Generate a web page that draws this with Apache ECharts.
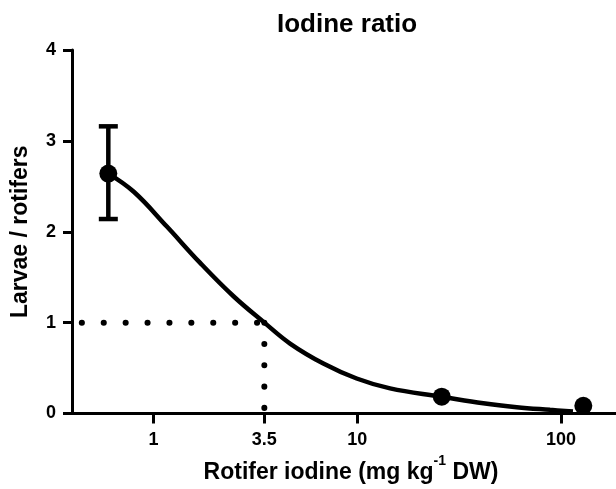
<!DOCTYPE html>
<html>
<head>
<meta charset="utf-8">
<script src="https://cdn.jsdelivr.net/npm/echarts@6/dist/echarts.min.js"></script>
<style>
html,body{margin:0;padding:0;background:#fff;}
#chart{width:616px;height:489px;}
</style>
</head>
<body>
<div id="chart"></div>
<script>
// Measured data (means with error bars)
var pointX = [0.60, 26.0, 128.8];
var pointY = [2.64, 0.185, 0.084];
var errLow = [2.14, 0.185, 0.084];
var errHigh = [3.16, 0.185, 0.084];

// Fitted curve
var curveX = [0.60, 0.80, 1.16, 1.69, 2.47, 3.5, 4.68, 6.82, 9.94, 14.5, 26.0, 41.6, 60.7, 88.4, 114.6];
var curveY = [2.64, 2.44, 2.06, 1.66, 1.29, 1.00, 0.77, 0.55, 0.385, 0.276, 0.185, 0.112, 0.069, 0.040, 0.022];

// Reference (dotted) lines
var refX = 3.5;
var refY = 1;

// Axis ticks
var xTicks = [1, 3.5, 10, 100];
var xMin = 0.398, xMax = 186.4;
var yMin = 0, yMax = 4, yInterval = 1;

var FONT = 'Liberation Sans, Arial, Helvetica, sans-serif';

var curveData = curveX.map(function (x, i) { return [x, curveY[i]]; });
var pointData = pointX.map(function (x, i) { return [x, pointY[i]]; });
var errData = pointX.map(function (x, i) { return [x, errLow[i], errHigh[i]]; })
  .filter(function (d) { return d[2] - d[1] > 0.01; });

var chart = echarts.init(document.getElementById('chart'), null, {renderer: 'canvas'});
chart.setOption({
  animation: false,
  backgroundColor: '#fff',
  title: {
    text: 'Iodine ratio',
    left: 277, top: 12, padding: 0,
    textStyle: {fontFamily: FONT, fontSize: 26, fontWeight: 'bold', color: '#000'}
  },
  grid: {left: 72, right: 0, top: 50, bottom: 72, containLabel: false},
  xAxis: {
    type: 'log',
    logBase: 10,
    min: xMin, max: xMax,
    name: '{a|Rotifer iodine (mg kg}{s|-1}{a| DW)}',
    nameLocation: 'middle',
    nameGap: 41,
    nameTextStyle: {
      padding: [0, 0, 0, 14],
      rich: {
        a: {fontFamily: FONT, fontSize: 23, fontWeight: 'bold', color: '#000', lineHeight: 36},
        s: {fontFamily: FONT, fontSize: 14, fontWeight: 'bold', color: '#000', lineHeight: 14, verticalAlign: 'top'}
      }
    },
    axisLine: {show: true, lineStyle: {color: '#000', width: 3}},
    axisTick: {show: true, length: 10, lineStyle: {color: '#000', width: 3}, customValues: xTicks},
    axisLabel: {
      show: true, margin: 18, customValues: xTicks,
      fontFamily: FONT, fontSize: 18, fontWeight: 'bold', color: '#000',
      formatter: function (v) { return String(+(+v).toPrecision(6)); }
    },
    splitLine: {show: false},
    minorTick: {show: false}
  },
  yAxis: {
    type: 'value',
    min: yMin, max: yMax, interval: yInterval,
    name: 'Larvae / rotifers',
    nameLocation: 'middle',
    nameGap: 40,
    nameTextStyle: {fontFamily: FONT, fontSize: 23, fontWeight: 'bold', color: '#000'},
    axisLine: {show: true, lineStyle: {color: '#000', width: 3}},
    axisTick: {show: true, length: 9, lineStyle: {color: '#000', width: 3}},
    axisLabel: {margin: 16, fontFamily: FONT, fontSize: 18, fontWeight: 'bold', color: '#000'},
    splitLine: {show: false}
  },
  series: [
    {
      type: 'line',
      data: [[xMin, refY], [refX, refY]],
      symbol: 'none',
      silent: true,
      lineStyle: {color: '#000', width: 6, type: [0.1, 21.8], cap: 'round', dashOffset: 12.1},
      z: 1
    },
    {
      type: 'line',
      data: [[refX, refY], [refX, 0]],
      symbol: 'none',
      silent: true,
      lineStyle: {color: '#000', width: 6, type: [0.1, 21.2], cap: 'round'},
      z: 1
    },
    {
      type: 'custom',
      data: errData,
      renderItem: function (params, api) {
        var x = api.value(0), lo = api.value(1), hi = api.value(2);
        var pHi = api.coord([x, hi]);
        var pLo = api.coord([x, lo]);
        var hw = 9.5;
        var st = {stroke: '#000', lineWidth: 4.5};
        return {
          type: 'group',
          children: [
            {type: 'line', shape: {x1: pHi[0], y1: pHi[1], x2: pLo[0], y2: pLo[1]}, style: st},
            {type: 'line', shape: {x1: pHi[0] - hw, y1: pHi[1], x2: pHi[0] + hw, y2: pHi[1]}, style: st},
            {type: 'line', shape: {x1: pLo[0] - hw, y1: pLo[1], x2: pLo[0] + hw, y2: pLo[1]}, style: st}
          ]
        };
      },
      z: 2
    },
    {
      type: 'line',
      data: curveData,
      symbol: 'none',
      smooth: 0.4,
      lineStyle: {color: '#000', width: 4.5},
      z: 3
    },
    {
      type: 'scatter',
      data: pointData,
      symbol: 'circle',
      symbolSize: 18,
      itemStyle: {color: '#000', opacity: 1},
      z: 4
    }
  ]
});
</script>
</body>
</html>
